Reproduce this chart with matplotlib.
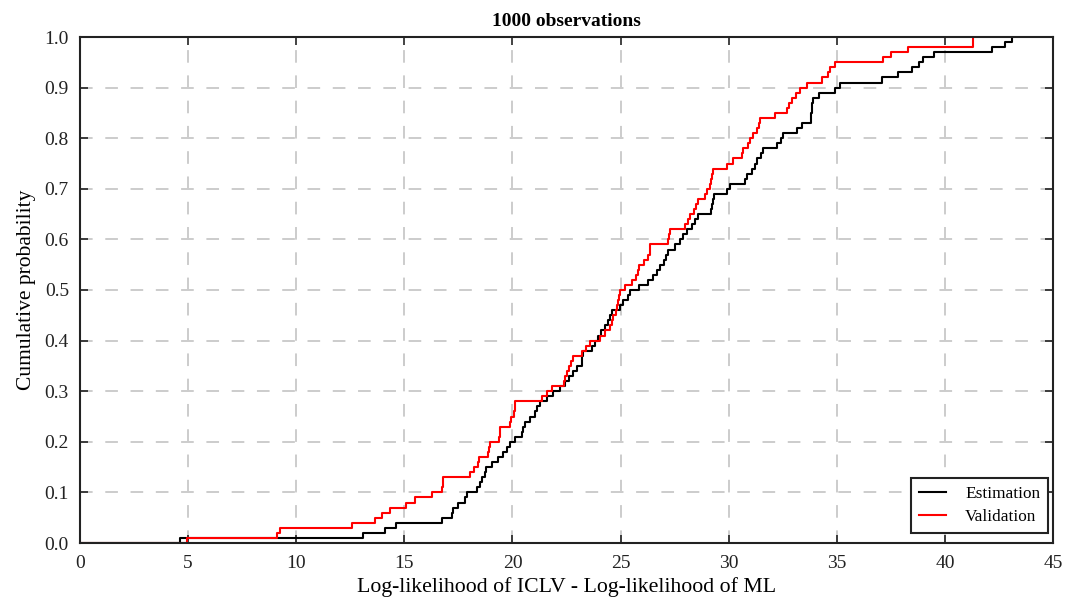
import numpy as np
import matplotlib
matplotlib.use("Agg")
import matplotlib.pyplot as plt

# === данные: точки скачков эмпирических функций распределения (по 100 наблюдений) ===
estimation = [
    4.63, 13.1, 14.1, 14.6, 16.75, 17.19, 17.27, 17.5, 17.81, 17.9,
    18.34, 18.5, 18.6, 18.73, 18.8, 19.04, 19.35, 19.58, 19.73, 19.9,
    20.12, 20.42, 20.5, 20.58, 20.8, 21.05, 21.15, 21.28, 21.6, 21.89,
    22.2, 22.43, 22.6, 22.82, 23.0, 23.2, 23.22, 23.24, 23.67, 23.8,
    23.97, 24.1, 24.28, 24.4, 24.52, 24.6, 24.98, 25.1, 25.36, 25.44,
    25.83, 26.29, 26.52, 26.7, 26.83, 27.0, 27.1, 27.21, 27.5, 27.75,
    27.9, 28.06, 28.3, 28.45, 28.6, 29.2, 29.25, 29.28, 29.3, 29.91,
    30.06, 30.76, 30.84, 31.1, 31.2, 31.3, 31.5, 31.61, 32.22, 32.4,
    32.53, 33.15, 33.4, 33.8, 33.82, 33.84, 33.86, 33.88, 34.2, 34.9,
    35.15, 37.1, 37.85, 38.5, 38.8, 39.0, 39.5, 42.2, 42.8, 43.1,
]
validation = [
    4.95, 9.1, 9.25, 12.57, 13.64, 13.95, 14.34, 15.1, 15.5, 16.3,
    16.75, 16.78, 16.8, 18.03, 18.2, 18.42, 18.45, 18.88, 18.92, 18.96,
    19.4, 19.42, 19.43, 19.89, 19.92, 20.05, 20.1, 20.12, 21.35, 21.58,
    21.82, 22.4, 22.45, 22.51, 22.6, 22.7, 22.82, 23.2, 23.4, 23.59,
    24.05, 24.3, 24.52, 24.6, 24.67, 24.8, 24.85, 24.9, 24.95, 24.98,
    25.2, 25.51, 25.7, 25.8, 25.83, 26.1, 26.29, 26.35, 26.37, 27.21,
    27.25, 27.29, 28.0, 28.1, 28.21, 28.4, 28.5, 28.6, 28.9, 29.0,
    29.14, 29.2, 29.25, 29.29, 29.91, 30.22, 30.6, 30.68, 30.9, 31.0,
    31.14, 31.3, 31.4, 31.45, 32.15, 32.68, 32.8, 32.92, 33.1, 33.3,
    33.61, 34.3, 34.6, 34.69, 34.92, 37.15, 37.5, 38.3, 41.3, 41.3,
]

plt.rcParams["font.family"] = ["Liberation Serif", "DejaVu Serif"]


def ecdf(values):
    x = np.sort(np.asarray(values, dtype=float))
    y = np.arange(1, len(x) + 1) / len(x)
    return np.concatenate([[0.0], x]), np.concatenate([[0.0], y])


fig = plt.figure(figsize=(10.73, 6.07), dpi=100)
ax = fig.add_axes([80 / 1073, 64 / 607, 973 / 1073, 506 / 607])

x_e, y_e = ecdf(estimation)
x_v, y_v = ecdf(validation)
ax.step(x_e, y_e, where="post", color="black", lw=1.5, label="Estimation")
ax.step(x_v, y_v, where="post", color="red", lw=1.5, label="Validation")

ax.set_xlim(0, 45)
ax.set_ylim(0, 1.0)
ax.set_xticks(range(0, 46, 5))
ax.set_yticks(np.arange(0, 1.01, 0.1))
ax.set_yticklabels([f"{v:.1f}" for v in np.arange(0, 1.01, 0.1)])

ax.grid(True, color="#cccccc", linestyle=(0, (6.5, 6.5)), lw=1.4)
ax.tick_params(direction="in", length=6, width=1.2, top=True, right=True,
               labelsize=14, colors="#222222")
ax.tick_params(axis="x", pad=9)
ax.tick_params(axis="y", pad=8)
for s in ax.spines.values():
    s.set_linewidth(1.5)
    s.set_color("#222222")

ax.set_title("1000 observations", fontsize=14, fontweight="bold", pad=8)
ax.set_xlabel("Log-likelihood of ICLV - Log-likelihood of ML", fontsize=15.7, labelpad=3)
ax.set_ylabel("Cumulative probability", fontsize=15.5, labelpad=6)

leg = ax.legend(loc="lower right", bbox_to_anchor=(1048 / 1073, 74 / 607),
                bbox_transform=fig.transFigure, fontsize=12.4, fancybox=False,
                framealpha=1, edgecolor="#222222", borderaxespad=0,
                handlelength=1.6, borderpad=0.45, labelspacing=0.42,
                handletextpad=1.1)
leg.get_frame().set_linewidth(1.5)

fig.savefig("out.png", dpi=100)
